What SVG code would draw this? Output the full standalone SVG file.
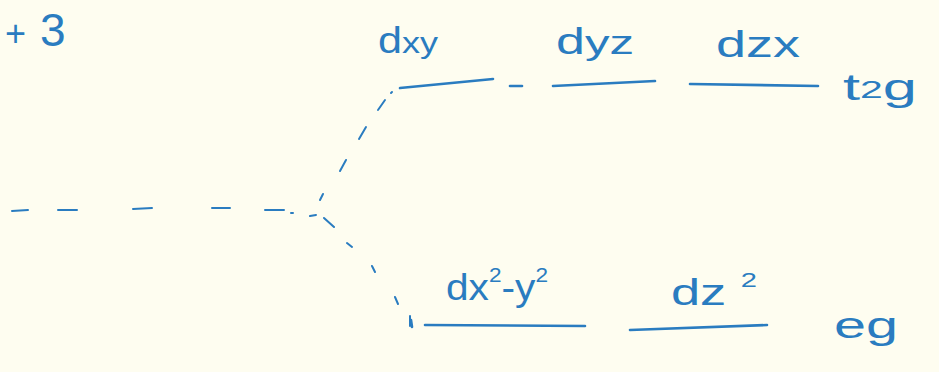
<svg xmlns="http://www.w3.org/2000/svg" width="939" height="372" viewBox="0 0 939 372">
<style>
.lvl{stroke:#2a7cc0;stroke-width:2.6;fill:none;stroke-linecap:round}
.con{stroke:#2a7cc0;stroke-width:2;fill:none;stroke-linecap:round}
.t{font-family:"Liberation Sans",Arial,sans-serif;fill:#2a7cc0;font-size:36px}
</style>
<rect width="939" height="372" fill="#fefdf0"/>
<g id="charge"><text class="t" x="5" y="46" font-size="38">+<tspan dx="14" font-size="46">3</tspan></text></g>
<g id="connectors">
<path class="con" d="M12 211 L28 210 M58 210 L77 210 M133 209 L152 208 M212 208 L230 208 M265 210 L284 210 M291 213 L293 213 M310 216 L316 215"/>
<path class="con" d="M320 200 L323 194 M340 171 L346 160 M359 139 L366 127 M378 110 L385 100 M391 93 L392 92"/>
<path class="con" d="M324 218 L334 227 M347 243 L352 247 M372 266 L375 272 M395 297 L398 304 M410 316 L410 326"/>
<path class="lvl" d="M510 86 L522 86" stroke-width="2"/>
</g>
<g id="dxy">
<path class="lvl" d="M400 88 L493 79"/>
<text class="t" x="378" y="53" textLength="60" lengthAdjust="spacingAndGlyphs">d<tspan font-size="30">xy</tspan></text>
</g>
<g id="dyz">
<path class="lvl" d="M553 86 L655 81"/>
<text class="t" x="556" y="54" font-size="40" textLength="78" lengthAdjust="spacingAndGlyphs">d<tspan font-size="34">yz</tspan></text>
</g>
<g id="dzx">
<path class="lvl" d="M690 84 L818 86"/>
<text class="t" x="716" y="57" font-size="40" textLength="84" lengthAdjust="spacingAndGlyphs">dzx</text>
</g>
<g id="t2g"><text class="t" x="843" y="100" font-size="44" textLength="74" lengthAdjust="spacingAndGlyphs">t<tspan font-size="24" dy="-2">2</tspan><tspan dy="2">g</tspan></text></g>
<g id="dx2y2">
<path class="lvl" d="M425 325 L585 326"/>
<path class="lvl" d="M411 320 L412 327" stroke-width="2"/>
<text class="t" x="446" y="300" font-size="40" textLength="102" lengthAdjust="spacingAndGlyphs">dx<tspan font-size="20" dy="-18">2</tspan><tspan dy="18">-y</tspan><tspan font-size="20" dy="-18">2</tspan></text>
</g>
<g id="dz2">
<path class="lvl" d="M630 330 L767 325"/>
<text class="t" x="671" y="305" font-size="40" textLength="86" lengthAdjust="spacingAndGlyphs">dz <tspan font-size="20" dy="-18">2</tspan></text>
</g>
<g id="eg"><text class="t" x="834" y="338" font-size="48" textLength="64" lengthAdjust="spacingAndGlyphs">eg</text></g>
</svg>
